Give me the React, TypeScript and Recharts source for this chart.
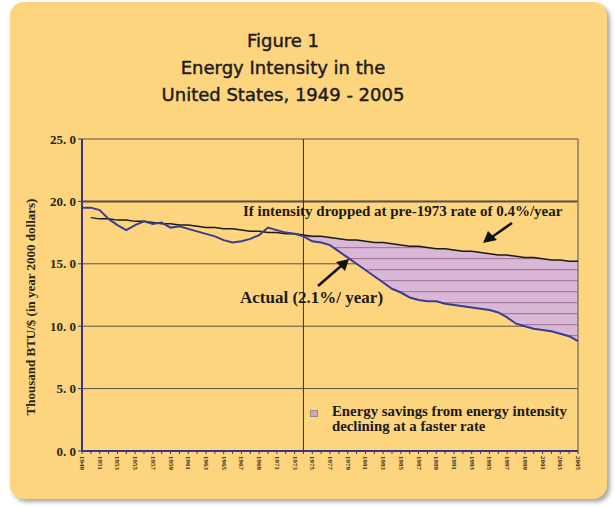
import React from 'react';
import { ComposedChart, Line, Area, XAxis, YAxis, CartesianGrid, ReferenceLine } from 'recharts';

const years = [
  1949, 1950, 1951, 1952, 1953, 1954, 1955, 1956, 1957, 1958,
  1959, 1960, 1961, 1962, 1963, 1964, 1965, 1966, 1967, 1968,
  1969, 1970, 1971, 1972, 1973, 1974, 1975, 1976, 1977, 1978,
  1979, 1980, 1981, 1982, 1983, 1984, 1985, 1986, 1987, 1988,
  1989, 1990, 1991, 1992, 1993, 1994, 1995, 1996, 1997, 1998,
  1999, 2000, 2001, 2002, 2003, 2004, 2005,
];

// actual energy intensity, thousand BTU per 2000 dollar
const actual = [
  19.5, 19.5, 19.3, 18.6, 18.1, 17.7, 18.1, 18.4, 18.2, 18.3,
  17.9, 18.0, 17.8, 17.6, 17.4, 17.2, 16.9, 16.7, 16.8, 17.0,
  17.3, 17.9, 17.7, 17.5, 17.4, 17.2, 16.8, 16.7, 16.5, 16.0,
  15.5, 15.0, 14.5, 14.0, 13.5, 13.0, 12.7, 12.3, 12.1, 12.0,
  12.0, 11.8, 11.7, 11.6, 11.5, 11.4, 11.3, 11.1, 10.7, 10.2,
  10.0, 9.8, 9.7, 9.6, 9.4, 9.2, 8.8,
];

// pre-1973 rate line (0.4%/year)
const trend = [
  null, 18.7, 18.6, 18.6, 18.5, 18.5, 18.4, 18.4, 18.3, 18.2,
  18.2, 18.1, 18.1, 18.0, 17.9, 17.9, 17.8, 17.8, 17.7, 17.6,
  17.6, 17.5, 17.5, 17.4, 17.4, 17.3, 17.2, 17.2, 17.1, 17.0,
  16.9, 16.9, 16.8, 16.7, 16.7, 16.6, 16.5, 16.4, 16.4, 16.3,
  16.2, 16.2, 16.1, 16.0, 16.0, 15.9, 15.8, 15.7, 15.7, 15.6,
  15.5, 15.5, 15.4, 15.3, 15.3, 15.2, 15.2,
];

const savingsFrom = 1973;
const yTicks = [0, 5, 10, 15, 20, 25];

const data = years.map((year, i) => ({
  year,
  actual: actual[i],
  trend: trend[i],
  savings: year >= savingsFrom && trend[i] != null ? [actual[i], trend[i]] : null,
}));

const serif = '"Liberation Serif", "Times New Roman", serif';
const navy = '#35358a';

const YearTick = (props: any) => {
  const { x, y, payload } = props;
  if ((payload.value - 1949) % 2 !== 0) return <g />;
  return (
    <text
      x={x}
      y={y}
      transform={`rotate(90 ${x} ${y})`}
      fontSize={7}
      fontFamily={serif}
      fontWeight="bold"
      fill="#3a3020"
      dominantBaseline="central"
    >
      {payload.value}
    </text>
  );
};

export default function App() {
  return (
    <div style={{ position: 'absolute', left: 0, top: 0, width: 615, height: 507, background: '#fff' }}>
      <div
        style={{
          position: 'absolute', left: 10, top: 2, width: 597, height: 497,
          background: '#fdd57f', borderRadius: 14, boxShadow: '3px 3px 4px rgba(0,0,0,0.35)',
        }}
      />
      <div
        style={{
          position: 'absolute', left: 0, top: 27, width: 566, textAlign: 'center',
          fontFamily: '"DejaVu Sans", sans-serif', fontSize: 18, lineHeight: '27px', color: '#1c1c1c',
          WebkitTextStroke: '0.45px #1c1c1c',
        }}
      >
        <div>Figure 1</div>
        <div>Energy Intensity in the</div>
        <div>United States, 1949 - 2005</div>
      </div>

      <div style={{ position: 'absolute', left: 0, top: 0 }}>
        <ComposedChart width={615} height={507} data={data} margin={{ top: 139, right: 37, bottom: 26, left: 22 }}>
          <defs>
            <pattern id="hatch" patternUnits="userSpaceOnUse" width={10} height={11}>
              <rect width={10} height={11} fill="#d9b7d6" />
              <rect y={5} width={10} height={1.2} fill="#a9789f" />
            </pattern>
          </defs>
          <CartesianGrid horizontal vertical={false} stroke="#5a5244" strokeWidth={1} />
          <XAxis
            dataKey="year"
            type="number"
            domain={[1949, 2005]}
            ticks={years}
            interval={0}
            height={30}
            axisLine={{ stroke: navy, strokeWidth: 2 }}
            tickLine={{ stroke: navy, strokeWidth: 1 }}
            tickSize={3}
            tickMargin={2}
            tick={<YearTick />}
          />
          <YAxis
            type="number"
            domain={[0, 25]}
            ticks={yTicks}
            width={60}
            axisLine={{ stroke: navy, strokeWidth: 2 }}
            tickLine={{ stroke: navy, strokeWidth: 1 }}
            tickSize={4}
            tickMargin={2}
            tickFormatter={(v: number) => v.toFixed(1).replace('.', '. ')}
            tick={{ fontFamily: serif, fontWeight: 'bold', fontSize: 13, fill: '#2a2418' }}
          />
          <ReferenceLine y={20} stroke="#5a5244" strokeWidth={2} />
          <ReferenceLine x={1974} stroke="#2e2e3e" strokeWidth={1} />
          <ReferenceLine x={2005} stroke="#8a7a5e" strokeWidth={1.5} />
          <Area
            dataKey="savings"
            type="linear"
            stroke="none"
            fill="url(#hatch)"
            fillOpacity={1}
            isAnimationActive={false}
          />
          <Line
            dataKey="trend"
            type="linear"
            stroke="#1a1a1a"
            strokeWidth={1.5}
            dot={false}
            isAnimationActive={false}
          />
          <Line
            dataKey="actual"
            type="linear"
            stroke="#3c3c92"
            strokeWidth={2}
            dot={false}
            isAnimationActive={false}
          />
        </ComposedChart>
      </div>

      <div
        style={{
          position: 'absolute', left: -99, top: 300, width: 260, height: 14, lineHeight: '14px',
          transform: 'rotate(-90deg)', textAlign: 'center', fontFamily: serif, fontWeight: 'bold',
          fontSize: 13, color: '#2a2418', whiteSpace: 'nowrap',
        }}
      >
        Thousand BTU/$ (in year 2000 dollars)
      </div>

      <div
        style={{
          position: 'absolute', left: 243, top: 202, fontFamily: serif, fontWeight: 'bold',
          fontSize: 15, lineHeight: '18px', color: '#1a1a1a', whiteSpace: 'nowrap',
        }}
      >
        If intensity dropped at pre-1973 rate of 0.4%/year
      </div>
      <div
        style={{
          position: 'absolute', left: 240, top: 288, fontFamily: serif, fontWeight: 'bold',
          fontSize: 17, lineHeight: '20px', color: '#1a1a1a', whiteSpace: 'nowrap',
        }}
      >
        Actual (2.1%/ year)
      </div>

      <div
        style={{
          position: 'absolute', left: 310, top: 410, width: 8, height: 7,
          background: '#c9a9b9', border: '1px solid #9a8a8a', boxSizing: 'border-box',
        }}
      />
      <div
        style={{
          position: 'absolute', left: 332, top: 404, fontFamily: serif, fontWeight: 'bold',
          fontSize: 14.8, lineHeight: '15px', color: '#1a1a1a', whiteSpace: 'nowrap',
        }}
      >
        <div>Energy savings from energy intensity</div>
        <div>declining at a faster rate</div>
      </div>

      <svg width={615} height={507} style={{ position: 'absolute', left: 0, top: 0, pointerEvents: 'none' }}>
        <line x1={512} y1={223} x2={492} y2={237} stroke="#111" strokeWidth={2.5} />
        <polygon points="483,243 488,231 497,240" fill="#111" />
        <line x1={318} y1={286} x2={341} y2={266} stroke="#111" strokeWidth={2.5} />
        <polygon points="349,259 336,262 345,271" fill="#111" />
      </svg>
    </div>
  );
}
